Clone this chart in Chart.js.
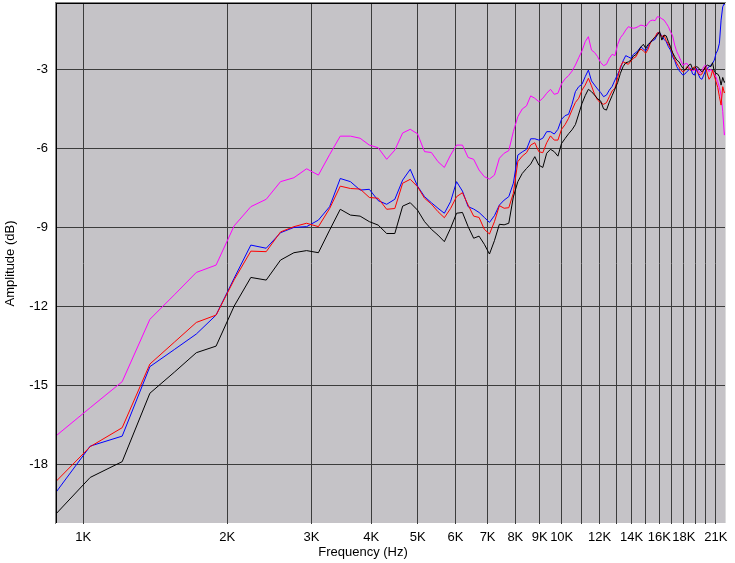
<!DOCTYPE html>
<html><head><meta charset="utf-8">
<script src="https://cdn.jsdelivr.net/npm/chart.js@4.4.1/dist/chart.umd.min.js"></script>
<style>html,body{margin:0;padding:0;background:#fff;overflow:hidden}#wrap{width:735px;height:563px}</style>
</head><body><div id="wrap"><canvas id="c" width="735" height="563"></canvas></div>
<script>
// FFT bin centre frequencies (Hz)
const freqHz = [
 861, 1034, 1206, 1378, 1550, 1723, 1895, 2067, 2240, 2412,
 2584, 2756, 2929, 3101, 3273, 3445, 3618, 3790, 3962, 4134,
 4307, 4479, 4651, 4824, 4996, 5168, 5340, 5513, 5685, 5857,
 6029, 6202, 6374, 6546, 6718, 6891, 7063, 7235, 7408, 7580,
 7752, 7924, 8097, 8269, 8441, 8613, 8786, 8958, 9130, 9303,
 9475, 9647, 9819, 9992, 10164, 10336, 10508, 10681, 10853, 11025,
 11198, 11370, 11542, 11714, 11887, 12059, 12231, 12403, 12576, 12748,
 12920, 13093, 13265, 13437, 13609, 13782, 13954, 14126, 14298, 14471,
 14643, 14815, 14987, 15160, 15332, 15504, 15677, 15849, 16021, 16193,
 16366, 16538, 16710, 16882, 17055, 17227, 17399, 17572, 17744, 17916,
 18088, 18261, 18433, 18605, 18777, 18950, 19122, 19294, 19467, 19639,
 19811, 19983, 20156, 20328, 20500, 20672, 20845, 21017, 21189, 21362,
 21534, 21706, 21878, 22050
];
const magentaDb = [
 -17.05, -15.86, -14.87, -12.50, -11.57, -10.72, -10.44, -8.95, -8.22, -7.94,
 -7.27, -7.12, -6.78, -7.02, -6.24, -5.54, -5.54, -5.62, -5.88, -5.98,
 -6.42, -6.07, -5.42, -5.28, -5.45, -6.13, -6.16, -6.51, -6.73, -6.26,
 -5.88, -5.88, -6.35, -6.42, -6.83, -7.08, -7.17, -7.02, -6.38, -6.19,
 -6.09, -5.37, -4.80, -4.51, -4.39, -4.01, -4.10, -4.23, -4.10, -3.91,
 -3.76, -3.95, -3.91, -3.55, -3.36, -3.24, -3.07, -2.84, -2.56, -2.30,
 -1.95, -1.76, -2.27, -2.36, -2.52, -2.74, -2.86, -2.81, -2.58, -2.43,
 -2.48, -2.05, -1.80, -1.67, -1.51, -1.38, -1.42, -1.44, -1.42, -1.37,
 -1.32, -1.34, -1.38, -1.25, -1.15, -1.13, -1.15, -1.00, -1.02, -1.08,
 -1.13, -1.25, -1.38, -1.57, -1.73, -2.08, -2.33, -2.49, -2.67, -2.84,
 -2.80, -2.77, -2.90, -3.00, -3.05, -3.03, -2.96, -3.03, -3.15, -3.05,
 -2.90, -2.84, -2.96, -3.09, -3.00, -3.09, -3.18, -3.30, -3.47, -3.69,
 -3.98, -4.60, -5.50, -5.30
];
const blueDb = [
 -19.27, -17.32, -16.94, -14.30, -13.65, -13.06, -12.34, -10.94, -9.68, -9.80,
 -9.21, -9.01, -8.98, -8.73, -8.22, -7.15, -7.27, -7.59, -7.56, -7.99,
 -8.13, -7.94, -7.21, -6.80, -7.44, -7.84, -8.07, -8.28, -8.47, -8.03,
 -7.27, -7.63, -8.22, -8.31, -8.44, -8.63, -8.82, -8.56, -8.16, -7.97,
 -7.84, -7.33, -6.26, -6.14, -6.04, -5.64, -5.64, -5.69, -5.62, -5.37,
 -5.37, -5.46, -5.28, -4.90, -4.76, -4.71, -4.33, -3.85, -3.66, -3.57,
 -3.28, -3.03, -3.44, -3.60, -3.75, -3.88, -4.04, -3.98, -3.79, -3.65,
 -3.41, -3.19, -2.96, -2.68, -2.48, -2.53, -2.58, -2.43, -2.36, -2.27,
 -2.14, -2.23, -2.30, -2.14, -1.95, -1.91, -1.86, -1.63, -1.61, -1.73,
 -1.86, -1.95, -2.14, -2.27, -2.52, -2.67, -2.90, -3.03, -3.13, -3.22,
 -3.18, -3.09, -3.03, -2.96, -3.18, -3.22, -2.96, -3.18, -3.34, -3.38,
 -3.22, -3.05, -2.96, -2.90, -2.84, -2.77, -2.65, -2.40, -2.27, -2.01,
 -1.13, -0.62, -0.50, -0.60
];
const redDb = [
 -18.81, -17.34, -16.62, -14.20, -13.37, -12.62, -12.34, -11.00, -9.91, -9.93,
 -9.18, -8.98, -8.85, -8.98, -8.29, -7.44, -7.53, -7.55, -7.87, -7.90,
 -8.32, -8.29, -7.33, -7.18, -7.46, -7.90, -8.12, -8.41, -8.64, -8.29,
 -7.84, -7.69, -8.16, -8.58, -8.63, -9.08, -9.26, -8.79, -8.18, -8.28,
 -8.26, -7.71, -6.51, -6.30, -6.17, -5.88, -5.79, -6.13, -6.17, -5.79,
 -5.53, -5.69, -5.69, -5.28, -5.10, -4.86, -4.55, -4.26, -4.10, -3.79,
 -3.60, -3.34, -3.63, -3.95, -4.17, -4.27, -4.33, -4.27, -4.04, -3.82,
 -3.72, -3.32, -2.90, -2.71, -2.77, -2.81, -2.68, -2.58, -2.52, -2.33,
 -2.23, -2.30, -2.39, -2.23, -1.99, -1.86, -1.76, -1.61, -1.63, -1.76,
 -1.70, -1.91, -2.04, -2.20, -2.39, -2.62, -2.77, -2.90, -3.03, -3.09,
 -3.05, -2.90, -2.96, -3.05, -2.96, -2.90, -3.05, -3.15, -3.22, -3.18,
 -3.03, -2.90, -3.18, -3.38, -3.28, -3.03, -3.25, -3.47, -3.69, -4.04,
 -4.36, -3.66, -3.90, -3.80
];
const blackDb = [
 -20.05, -18.51, -17.91, -15.31, -14.51, -13.77, -13.52, -12.00, -10.91, -11.01,
 -10.25, -9.97, -9.89, -9.97, -9.11, -8.32, -8.54, -8.58, -8.79, -8.92,
 -9.24, -9.24, -8.20, -8.07, -8.35, -8.79, -9.08, -9.30, -9.55, -9.04,
 -8.47, -8.44, -8.98, -9.42, -9.34, -9.65, -10.02, -9.51, -8.89, -8.91,
 -8.85, -7.85, -7.27, -6.96, -6.77, -6.60, -6.32, -6.64, -6.73, -6.19,
 -6.04, -6.13, -6.30, -5.82, -5.63, -5.45, -5.30, -5.10, -4.70, -4.30,
 -4.00, -3.76, -3.85, -3.98, -4.12, -4.20, -4.50, -4.55, -4.25, -4.00,
 -3.75, -3.50, -3.15, -2.90, -2.75, -2.72, -2.65, -2.50, -2.44, -2.30,
 -2.15, -2.05, -2.20, -2.05, -1.99, -1.86, -1.79, -1.70, -1.57, -1.89,
 -1.70, -1.73, -1.95, -2.14, -2.37, -2.52, -2.65, -2.71, -2.84, -2.96,
 -3.03, -2.96, -2.84, -2.80, -3.00, -2.96, -2.90, -2.93, -3.03, -3.09,
 -3.03, -2.90, -2.84, -2.87, -2.90, -2.75, -3.09, -3.15, -3.18, -3.28,
 -3.60, -3.31, -3.50, -3.40
];
const gridFreqs = [1000,2000,3000,4000,5000,6000,7000,8000,9000,10000,11000,12000,13000,14000,15000,16000,17000,18000,19000,20000,21000];
const freqLabels = {1000:'1K',2000:'2K',3000:'3K',4000:'4K',5000:'5K',6000:'6K',7000:'7K',8000:'8K',9000:'9K',10000:'10K',12000:'12K',14000:'14K',16000:'16K',18000:'18K',21000:'21K'};
const dbTicks = [-18,-15,-12,-9,-6,-3];

const FONT = 'Liberation Sans';
const pts = arr => freqHz.map((f,i)=>({x:f,y:arr[i]}));
const ds = (label, arr, color) => ({label, data: pts(arr), borderColor: color, backgroundColor: color,
  borderWidth: 1, pointRadius: 0, tension: 0, fill: false});

const framePlugin = {
  id: 'frame',
  beforeDraw(chart){
    const {ctx, chartArea:a} = chart;
    ctx.save();
    ctx.fillStyle = '#c5c3c7';
    ctx.fillRect(a.left, a.top, a.right - a.left, a.bottom - a.top - 1);
    ctx.restore();
  },
  afterDraw(chart){
    const {ctx, chartArea:a} = chart;
    ctx.save();
    ctx.fillStyle = '#808080';
    ctx.fillRect(a.left - 1, a.top - 1, a.right - a.left + 1, 1);
    ctx.fillRect(a.left - 1, a.top - 1, 1, a.bottom - a.top + 1);
    ctx.fillStyle = '#000';
    ctx.fillRect(a.left, a.top, a.right - a.left - 1, 1);
    ctx.fillRect(a.left, a.top, 1, a.bottom - a.top - 1);
    ctx.fillStyle = '#dcdcdc';
    ctx.fillRect(a.right - 1, a.top, 1, a.bottom - a.top - 1);
    ctx.restore();
  }
};

new Chart(document.getElementById('c'), {
  type: 'line',
  data: { datasets: [
    ds('Black', blackDb, '#000000'),
    ds('Red', redDb, '#ff0000'),
    ds('Blue', blueDb, '#0000ff'),
    ds('Magenta', magentaDb, '#ff00ff')
  ]},
  options: {
    responsive: false, animation: false, devicePixelRatio: 1,
    layout: { padding: { left: 0, right: 9, top: 3, bottom: 0 } },
    plugins: {
      legend: { display: false }, tooltip: { enabled: false },
      title: { display: true, position: 'bottom', text: 'Frequency (Hz)', color: '#000',
        font: { family: FONT, size: 13, weight: 'normal', lineHeight: '16px' }, padding: { top: 3, bottom: 3 } }
    },
    scales: {
      x: {
        type: 'logarithmic', min: 877, max: 22050,
        afterBuildTicks: s => { s.ticks = gridFreqs.map(v => ({ value: v })); },
        afterFit: s => { s.height = 17; s.paddingLeft = 0; s.paddingRight = 0; s.paddingTop = 0; s.paddingBottom = 0; },
        grid: { color: '#3c3c3c', lineWidth: 1, drawTicks: false },
        border: { display: false },
        ticks: { autoSkip: false, maxRotation: 0, minRotation: 0, padding: 6, color: '#000',
          font: { family: FONT, size: 13 }, callback: v => freqLabels[v] || '' }
      },
      y: {
        type: 'linear', min: -20.28, max: -0.48,
        afterBuildTicks: s => { s.ticks = dbTicks.map(v => ({ value: v })); },
        afterFit: s => { s.width = 56; s.paddingLeft = 0; s.paddingRight = 0; s.paddingTop = 0; s.paddingBottom = 0; },
        grid: { color: '#3c3c3c', lineWidth: 1, drawTicks: false },
        border: { display: false },
        ticks: { padding: 8, color: '#000', font: { family: FONT, size: 13 }, callback: v => String(v) },
        title: { display: true, text: 'Amplitude (dB)', color: '#000',
          font: { family: FONT, size: 13, lineHeight: '16px' }, padding: { top: 2, bottom: 0 } }
      }
    }
  },
  plugins: [framePlugin]
});
</script></body></html>
